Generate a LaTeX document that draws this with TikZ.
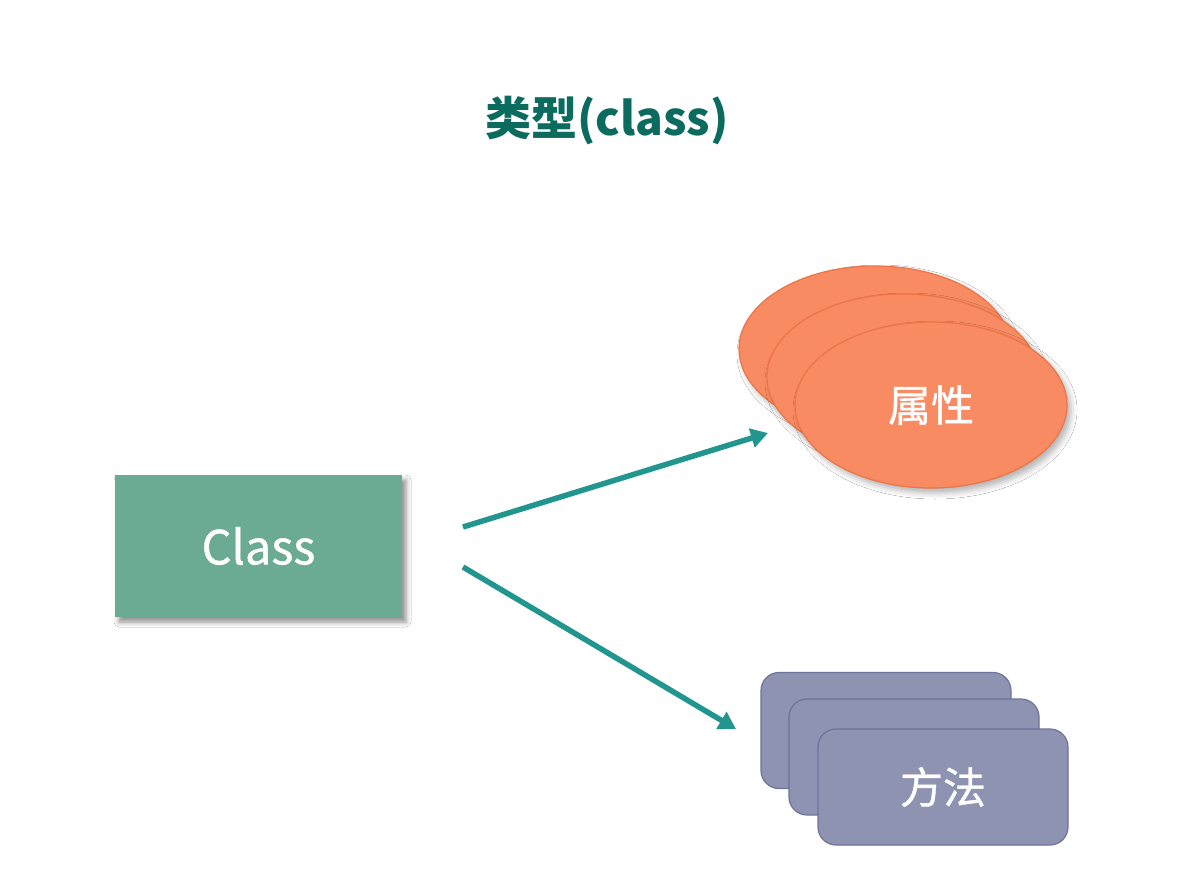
\documentclass[tikz,border=0pt]{standalone}
\usepackage{fontspec}
\setmainfont{Noto Sans CJK SC}
\newfontfamily\cjk{Noto Sans CJK SC}
\newfontfamily\cjkm[FakeBold=0.9]{Noto Sans CJK SC}
\usetikzlibrary{shapes.geometric,shadows.blur,arrows.meta}
\definecolor{titlecol}{HTML}{0B6B5F}
\definecolor{classfill}{HTML}{6BAA93}
\definecolor{orfill}{HTML}{F98B62}
\definecolor{ordraw}{HTML}{EC7446}
\definecolor{pufill}{HTML}{8E93B2}
\definecolor{pudraw}{HTML}{6D7399}
\definecolor{arrcol}{HTML}{21968F}
\tikzset{
  classbox/.style={rectangle, fill=classfill, minimum width=287pt, minimum height=142pt, inner sep=0pt,
    text=white, font=\cjkm\fontsize{47}{52}\selectfont,
    blur shadow={shadow xshift=4pt, shadow yshift=-5pt, shadow blur radius=5pt, shadow opacity=45}},
  attr/.style={ellipse, fill=orfill, draw=ordraw, line width=1.2pt, minimum width=272pt, minimum height=166pt, inner sep=0pt,
    text=white, font=\cjkm\fontsize{43}{48}\selectfont,
    blur shadow={shadow xshift=4pt, shadow yshift=-5pt, shadow blur radius=6pt, shadow opacity=30}},
  meth/.style={rectangle, rounded corners=18pt, fill=pufill, draw=pudraw, line width=1.2pt, minimum width=250pt, minimum height=116pt, inner sep=0pt,
    text=white, font=\cjkm\fontsize{43}{48}\selectfont},
  conn/.style={draw=arrcol, line width=5.5pt, -{Triangle[length=17pt,width=19pt]}},
  titletext/.style={text=titlecol, font=\cjk\bfseries\fontsize{46}{52}\selectfont}
}
\begin{document}
\begin{tikzpicture}[x=1pt,y=-1pt]
\useasboundingbox (0,0) rectangle (1192,878);
\fill[white] (0,0) rectangle (1192,878);
\node[titletext] (title) at (607,121) {类型(class)};
\node[classbox] (class) at (258.5,546) {Class};
\node[attr] (attr3) at (875,349) {};
\node[attr] (attr2) at (903,377) {};
\node[attr] (attr1) at (931,405) {属性};
\node[meth] (meth3) at (886,730.5) {};
\node[meth] (meth2) at (914,757) {};
\node[meth] (meth1) at (943,787) {方法};
\coordinate (s1) at (463,527);
\coordinate (e1) at (768,433);
\coordinate (s2) at (463,567);
\coordinate (e2) at (736,729);
\draw[conn] (s1) -- (e1);
\draw[conn] (s2) -- (e2);
\end{tikzpicture}
\end{document}
